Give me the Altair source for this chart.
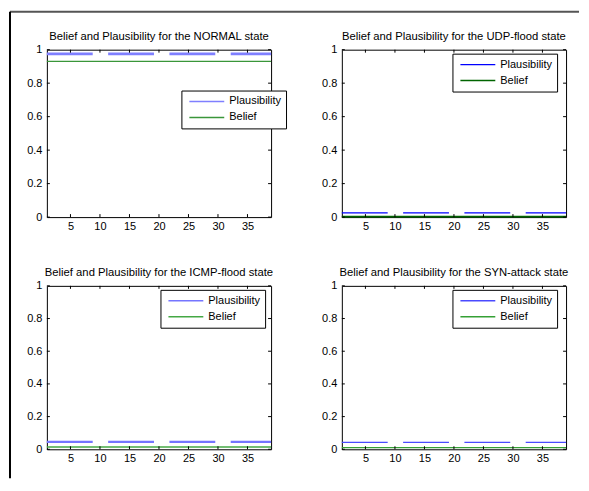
import altair as alt
import pandas as pd

# ---- data ----
states = ["NORMAL", "UDP-flood", "ICMP-flood", "SYN-attack"]
plausibility = [0.975, 0.025, 0.045, 0.042]
belief = [0.93, 0.003, 0.014, 0.010]
sample_range = [1, 39]
series_names = ["Plausibility", "Belief"]
x_ticks = [5, 10, 15, 20, 25, 30, 35]
y_ticks = [0, 0.2, 0.4, 0.6, 0.8, 1]

# ---- per-panel styles ----
plaus_colors = ["#7f7fff", "#0000ff", "#7575ff", "#4a4aff"]
belief_colors = ["#3a963a", "#006400", "#45a845", "#35a035"]
plaus_widths = [2.6, 1.2, 2.2, 1.4]
belief_widths = [1.4, 1.8, 1.6, 1.4]
panel_heights = [168, 168, 164, 164]
legend_pos = [(135, 41), (111, 4), (114, 4), (111, 4)]

FONT = "Liberation Sans"
W = 225


def panel(i):
    h = panel_heights[i]
    df = pd.DataFrame({
        "x": sample_range * 2,
        "value": [plausibility[i]] * 2 + [belief[i]] * 2,
        "series": ["Plausibility"] * 2 + ["Belief"] * 2,
    })
    xenc = alt.X("x:Q", scale=alt.Scale(domain=sample_range, nice=False, zero=False),
                 axis=alt.Axis(values=x_ticks, title=None, labelFlush=False, labelOverlap=False,
                               labelPadding=3))
    yenc = alt.Y("value:Q", scale=alt.Scale(domain=[0, 1], nice=False),
                 axis=alt.Axis(values=y_ticks, title=None, format="~g", labelFlush=False,
                               labelOverlap=False, labelPadding=5))
    lx, ly = legend_pos[i]
    color = alt.Color(
        "series:N",
        scale=alt.Scale(domain=series_names, range=[plaus_colors[i], belief_colors[i]]),
        legend=alt.Legend(
            title=None, orient="none", legendX=lx, legendY=ly,
            strokeColor="black", fillColor="white", padding=5,
            symbolType="stroke", symbolSize=1225, symbolStrokeWidth=1.4,
            symbolDash=[1, 0], symbolOffset=2,
            labelFont=FONT, labelFontSize=11, labelColor="black", labelOffset=4,
            clipHeight=12, rowPadding=4,
        ),
    )
    base = alt.Chart(df)
    pl = base.transform_filter(alt.datum.series == "Plausibility").mark_line(
        strokeDash=[46, 15.5], strokeWidth=plaus_widths[i]
    ).encode(x=xenc, y=yenc, color=color)
    bl = base.transform_filter(alt.datum.series == "Belief").mark_line(
        strokeWidth=belief_widths[i]
    ).encode(x=xenc, y=yenc, color=color)

    xt = pd.DataFrame({"x": x_ticks})
    yt = pd.DataFrame({"value": y_ticks})
    t1 = alt.Chart(xt).mark_rule(color="black", strokeWidth=1).encode(x=xenc, y=alt.value(0), y2=alt.value(3))
    t2 = alt.Chart(xt).mark_rule(color="black", strokeWidth=1).encode(x=xenc, y=alt.value(h), y2=alt.value(h - 3))
    t3 = alt.Chart(yt).mark_rule(color="black", strokeWidth=1).encode(y=yenc, x=alt.value(0), x2=alt.value(3))
    t4 = alt.Chart(yt).mark_rule(color="black", strokeWidth=1).encode(y=yenc, x=alt.value(W), x2=alt.value(W - 3))

    title_df = pd.DataFrame({"t": [f"Belief and Plausibility for the {states[i]} state"]})
    title = alt.Chart(title_df).mark_text(
        font=FONT, fontSize=11.3, color="black", align="center", baseline="alphabetic"
    ).encode(text="t:N", x=alt.value(W / 2), y=alt.value(-9.5))

    layers = [pl, bl, t1, t2, t3, t4, title]
    if i == 0:
        dummy = pd.DataFrame({"k": [0]})
        top = alt.Chart(dummy).mark_rule(color="#555555", strokeWidth=2, clip=False).encode(
            x=alt.value(-37), x2=alt.value(534), y=alt.value(-38))
        left = alt.Chart(dummy).mark_rule(color="black", strokeWidth=2, clip=False).encode(
            x=alt.value(-37), y=alt.value(-38), y2=alt.value(430))
        layers += [top, left]

    return alt.layer(*layers).properties(width=W, height=h)


chart = alt.concat(
    *[panel(i) for i in range(4)], columns=2, bounds="flush",
    spacing={"row": 69, "column": 71},
).resolve_scale(color="independent").resolve_legend(color="independent").properties(
    padding={"left": 0, "top": 1, "right": 0, "bottom": 0}
).configure_view(stroke="black", strokeWidth=1).configure_axis(
    domain=False, ticks=False, grid=False, labelFont=FONT, labelFontSize=11,
    labelColor="black",
)

chart.save("out.html", embed_options={"renderer": "svg", "actions": False})
